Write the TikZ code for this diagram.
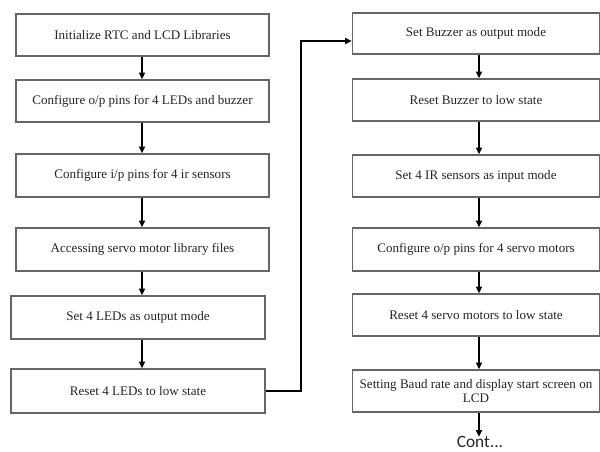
\documentclass[tikz,border=0pt]{standalone}
\usepackage{fontspec}
\setmainfont{Liberation Serif}
\newfontfamily\contfont{Carlito}
\usetikzlibrary{arrows.meta}
\begin{document}
\begin{tikzpicture}[x=0.75pt,y=-0.75pt,
  stepbox/.style={draw=black!60,line width=1.1pt,inner sep=0pt,align=center,
    font=\fontsize{9.8}{11}\selectfont,text=black!85},
  arr/.style={draw=black,line width=1.5pt,-{Triangle[length=5pt,width=4.5pt]}}]
\useasboundingbox[fill=white] (0,0) rectangle (600,452);
% left column
\node[stepbox,minimum width=189.75pt,minimum height=31.5pt] (l1) at (142.5,35) {Initialize RTC and LCD Libraries};
\node[stepbox,minimum width=189.75pt,minimum height=31.5pt] (l2) at (142.5,101) {Configure o/p pins for 4 LEDs and buzzer};
\node[stepbox,minimum width=189.75pt,minimum height=32.25pt] (l3) at (142.5,175.5) {Configure i/p pins for 4 ir sensors};
\node[stepbox,minimum width=189.75pt,minimum height=32.25pt] (l4) at (142.5,249.5) {Accessing servo motor library files};
\node[stepbox,minimum width=190.5pt,minimum height=32.25pt] (l5) at (138,317.5) {Set 4 LEDs as output mode};
\node[stepbox,minimum width=190.5pt,minimum height=33pt] (l6) at (138,391) {Reset 4 LEDs to low state};
% right column
\node[stepbox,minimum width=185.25pt,minimum height=30.75pt] (r1) at (476,33.5) {Set Buzzer as output mode};
\node[stepbox,minimum width=185.25pt,minimum height=31.5pt] (r2) at (476,100) {Reset Buzzer to low state};
\node[stepbox,minimum width=185.25pt,minimum height=31.5pt] (r3) at (476,176) {Set 4 IR sensors as input mode};
\node[stepbox,minimum width=185.25pt,minimum height=32.25pt] (r4) at (476,249.5) {Configure o/p pins for 4 servo motors};
\node[stepbox,minimum width=185.25pt,minimum height=31.5pt] (r5) at (476,315) {Reset 4 servo motors to low state};
\node[stepbox,minimum width=185.25pt,minimum height=31.5pt] (r6) at (476,391) {Setting Baud rate and display start screen on\\LCD};
\node[font=\contfont\fontsize{13}{14}\selectfont,text=black!85,inner sep=0pt] (cont) at (480,442) {Cont...};
% helper coordinates
\coordinate (lx) at (142,0);
\coordinate (rx) at (479,0);
\coordinate (bend1) at (301,391);
\coordinate (bend2) at (301,41);
% arrows
\draw[arr] (l1.south -| lx) -- (l2.north -| lx);
\draw[arr] (l2.south -| lx) -- (l3.north -| lx);
\draw[arr] (l3.south -| lx) -- (l4.north -| lx);
\draw[arr] (l4.south -| lx) -- (l5.north -| lx);
\draw[arr] (l5.south -| lx) -- (l6.north -| lx);
\draw[arr] (l6.east |- bend1) -- (bend1) -- (bend2) -- (bend2 -| r1.west);
\draw[arr] (r1.south -| rx) -- (r2.north -| rx);
\draw[arr] (r2.south -| rx) -- (r3.north -| rx);
\draw[arr] (r3.south -| rx) -- (r4.north -| rx);
\draw[arr] (r4.south -| rx) -- (r5.north -| rx);
\draw[arr] (r5.south -| rx) -- (r6.north -| rx);
\draw[arr] (r6.south -| rx) -- ([yshift=-0.5pt]cont.north -| rx);
\end{tikzpicture}
\end{document}
